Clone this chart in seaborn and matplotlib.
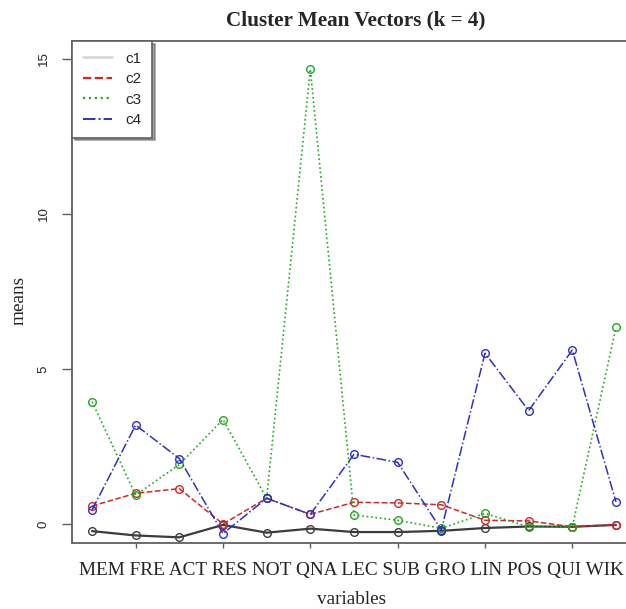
import pandas as pd
import matplotlib.pyplot as plt
import seaborn as sns
from matplotlib.lines import Line2D

# Data
variables = ["MEM", "FRE", "ACT", "RES", "NOT", "QNA", "LEC",
             "SUB", "GRO", "LIN", "POS", "QUI", "WIK"]
c1 = [-0.23, -0.37, -0.43, -0.03, -0.28, -0.15, -0.26, -0.26, -0.22, -0.13, -0.08, -0.09, -0.03]
c2 = [0.58, 0.99, 1.14, 0.00, 0.83, 0.31, 0.70, 0.68, 0.62, 0.12, 0.10, -0.09, -0.02]
c3 = [3.95, 0.93, 1.92, 3.37, 0.83, 14.67, 0.29, 0.12, -0.14, 0.34, -0.09, -0.09, 6.34]
c4 = [0.45, 3.19, 2.11, -0.31, 0.83, 0.31, 2.25, 1.99, -0.19, 5.51, 3.66, 5.61, 0.71]
clusters = ["c1", "c2", "c3", "c4"]
y_ticks = [0, 5, 10, 15]

df = pd.DataFrame({"c1": c1, "c2": c2, "c3": c3, "c4": c4})
df["pos"] = range(len(variables))
long_df = df.melt(id_vars="pos", var_name="cluster", value_name="mean")

# Style
sns.set_style("ticks")
plt.rcParams["font.family"] = ["Liberation Serif", "DejaVu Serif"]

colors = {"c1": "#3c3c3c", "c2": "#cc2a2a", "c3": "#22a822", "c4": "#3030c0"}
styles = {"c1": "-", "c2": "--", "c3": ":", "c4": "-."}
widths = {"c1": 1.6, "c2": 1.1, "c3": 1.2, "c4": 1.1}

fig = plt.figure(figsize=(6.26, 6.09), dpi=100)
ax = fig.add_axes([72 / 626, 1 - 543 / 609, 568 / 626, 502 / 609])

for name in clusters:
    sub = long_df[long_df["cluster"] == name]
    sns.lineplot(data=sub, x="pos", y="mean", color=colors[name],
                 linestyle=styles[name], linewidth=widths[name],
                 marker="o", markersize=5.5, markerfacecolor="none",
                 markeredgecolor=colors[name], markeredgewidth=1.0, ax=ax)

ax.set_xlim(-0.458, 12.55)
ax.set_ylim(-0.613, 15.58)

# axes frame
for side in ["left", "bottom", "top", "right"]:
    ax.spines[side].set_color("#606060")
    ax.spines[side].set_linewidth(1.3)

ax.set_xticks([1, 3, 5, 7, 9, 11])
ax.set_xticklabels([])
ax.tick_params(axis="x", length=3.6, width=1.0, color="#606060")
ax.set_yticks(y_ticks)
ax.set_yticklabels([str(t) for t in y_ticks], rotation=90, va="center",
                   family=["Liberation Sans"], fontsize=9.5)
ax.tick_params(axis="y", length=7.2, width=1.0, color="#606060", pad=9)

# category names as one line under the axis
ax.text(0.492, -0.0637, " ".join(variables), transform=ax.transAxes,
        ha="center", va="baseline", fontsize=13.9)

ax.set_xlabel("variables", fontsize=13.9, va="baseline")
ax.xaxis.set_label_coords(0.493, -0.121)
ax.set_ylabel("means", fontsize=13.9)
ax.yaxis.set_label_coords(-0.079, 0.484)

ax.set_title("Cluster Mean Vectors (k = 4)", fontsize=15.2, fontweight="bold", pad=11)

# legend
handles = [
    Line2D([], [], color="#d8d8d8", linestyle="-", linewidth=2),
    Line2D([], [], color=colors["c2"], linestyle="--", linewidth=1.6),
    Line2D([], [], color=colors["c3"], linestyle=":", linewidth=1.6),
    Line2D([], [], color=colors["c4"], linestyle="-.", linewidth=1.4),
]
leg = ax.legend(handles, clusters, loc="upper left", borderaxespad=0,
                frameon=True, fancybox=False, shadow=True,
                prop={"family": "Liberation Sans", "size": 11},
                handlelength=1.95, handletextpad=0.85, labelspacing=0.42,
                borderpad=0.7)
leg.get_frame().set_edgecolor("#606060")
leg.get_frame().set_linewidth(1.2)

fig.savefig("out.png", dpi=100)
